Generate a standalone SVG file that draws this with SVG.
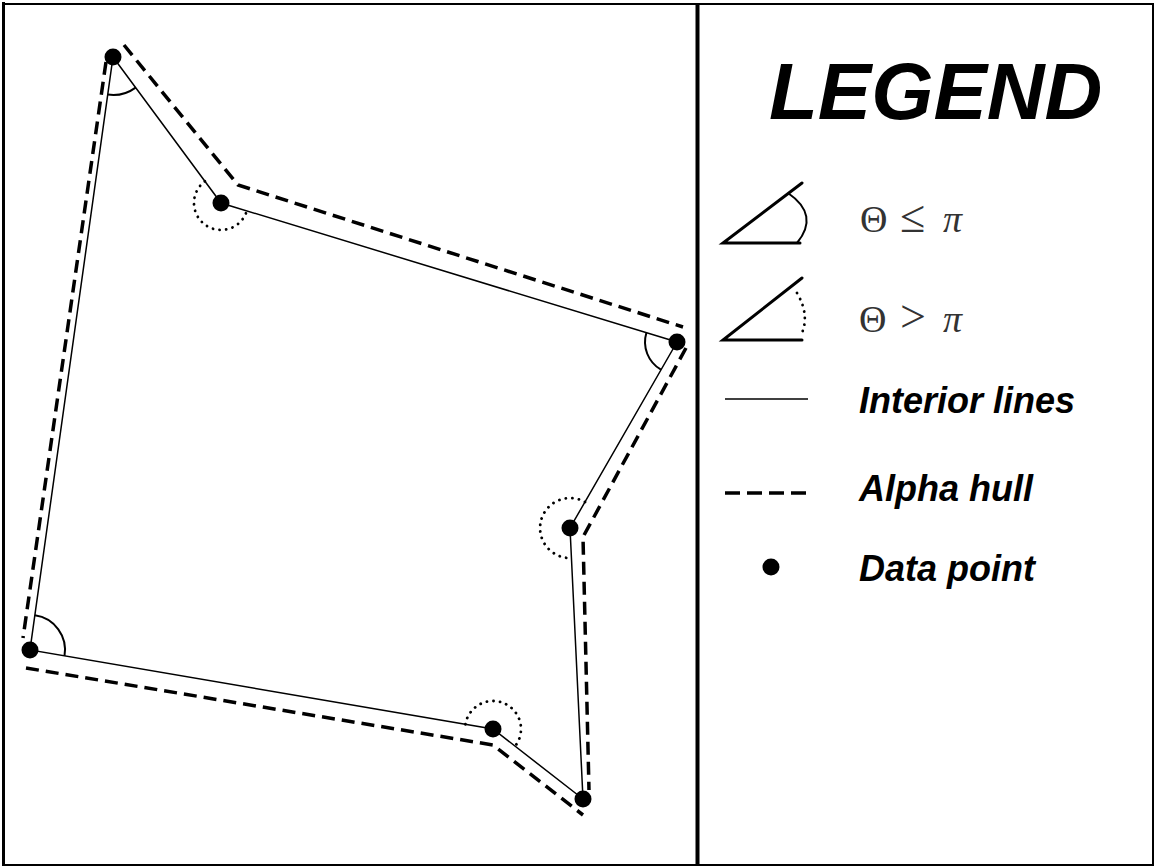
<svg xmlns="http://www.w3.org/2000/svg" width="1156" height="867" viewBox="0 0 1156 867">
<style>
.frame{stroke:#000;fill:none}
.interior{stroke:#000;stroke-width:1.5;fill:none}
.hull{stroke:#000;stroke-width:3.5;fill:none;stroke-dasharray:13 7}
.arc{stroke:#000;stroke-width:2;fill:none}
.dot{stroke:#000;stroke-width:2.8;fill:none;stroke-dasharray:0.1 6.5;stroke-linecap:round}
.pt{fill:#000}
.lbl{font-family:"Liberation Sans",Arial,sans-serif;font-weight:bold;font-style:italic;fill:#000}
.math{font-family:"Liberation Serif","Times New Roman",serif;font-size:38px;fill:#333}
.rel{font-size:46px}
.leg{stroke:#000;stroke-width:3;fill:none;stroke-linecap:round}
</style>
<rect x="0" y="0" width="1156" height="867" fill="#fff"/>
<g id="frame">
<line class="frame" x1="3.5" y1="2" x2="3.5" y2="866" stroke-width="3"/>
<line class="frame" x1="2" y1="4" x2="1154" y2="4" stroke-width="2"/>
<line class="frame" x1="1153" y1="3" x2="1153" y2="866" stroke-width="2"/>
<line class="frame" x1="2" y1="865" x2="1154" y2="865" stroke-width="2"/>
<line class="frame" x1="697.5" y1="3" x2="697.5" y2="866" stroke-width="4"/>
</g>
<g id="connectors">
<g id="interior-lines">
<polygon class="interior" points="113,57 221,203 677,342 570,528 583,799 493,729 30,650"/>
</g>
<g id="alpha-hull">
<path class="hull" d="M106,62 L23,638"/>
<path class="hull" d="M124,45 L238,185 L683,327"/>
<path class="hull" d="M686,348 L583,537 L589,790"/>
<path class="hull" d="M26,668 L493,745 L583,815"/>
</g>
<g id="angles">
<path class="arc" d="M135.6,87.6 A38,38 0 0 1 107.7,94.6"/>
<path class="dot" d="M204.9,181.3 A27,27 0 1 0 246.8,210.9"/>
<path class="arc" d="M661,369.7 A32,32 0 0 1 646.4,332.7"/>
<path class="dot" d="M585,502 A30,30 0 1 0 571.4,558"/>
<path class="dot" d="M465.4,724.3 A28,28 0 1 1 515.1,746.2"/>
<path class="arc" d="M34.9,615.3 A35,35 0 0 1 64.5,655.9"/>
</g>
</g>
<g id="nodes">
<circle id="p1" class="pt" cx="113" cy="57" r="8.5"/>
<circle id="p2" class="pt" cx="221" cy="203" r="8.5"/>
<circle id="p3" class="pt" cx="677" cy="342" r="8.5"/>
<circle id="p4" class="pt" cx="570" cy="528" r="8.5"/>
<circle id="p5" class="pt" cx="493" cy="729" r="8.5"/>
<circle id="p6" class="pt" cx="583" cy="799" r="8.5"/>
<circle id="p7" class="pt" cx="30" cy="650" r="8.5"/>
</g>
<g id="legend">
<text class="lbl" x="769" y="119" font-size="80">LEGEND</text>
<g id="legend-angle-small">
<path class="leg" d="M800,243 L723,243 L802,183"/>
<path class="arc" stroke-width="3" d="M788,193 Q820,215 797,243"/>
<text class="math" y="232"><tspan x="860">Θ</tspan><tspan class="rel" x="900">≤</tspan><tspan x="943" font-style="italic">π</tspan></text>
</g>
<g id="legend-angle-large">
<path class="leg" d="M802,340 L723,340 L802,278"/>
<path class="dot" d="M797,293 Q811,317 800,337" stroke-dasharray="0.1 7"/>
<text class="math" y="332"><tspan x="859">Θ</tspan><tspan class="rel" x="900">&gt;</tspan><tspan x="943" font-style="italic">π</tspan></text>
</g>
<g id="legend-interior">
<line x1="725" y1="399" x2="808" y2="399" stroke="#000" stroke-width="1.5"/>
<text class="lbl" x="859" y="413" font-size="36">Interior lines</text>
</g>
<g id="legend-hull">
<line x1="725" y1="493" x2="807" y2="493" stroke="#000" stroke-width="3.5" stroke-dasharray="15 7"/>
<text class="lbl" x="859" y="501" font-size="36">Alpha hull</text>
</g>
<g id="legend-point">
<circle class="pt" cx="771" cy="567" r="8.5"/>
<text class="lbl" x="859" y="581" font-size="36">Data point</text>
</g>
</g>
</svg>
